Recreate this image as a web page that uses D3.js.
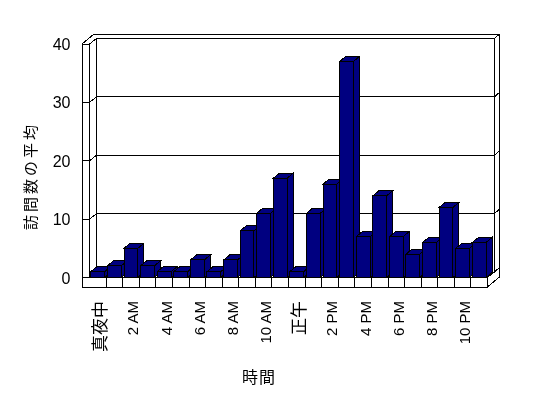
<!DOCTYPE html>
<html><head><meta charset="utf-8">
<script src="https://cdn.jsdelivr.net/npm/d3@7"></script>
<style>html,body{margin:0;padding:0;background:#fff;} svg{display:block}</style>
</head><body>
<script>
// ---- data ----
const categories = ["真夜中","1 AM","2 AM","3 AM","4 AM","5 AM","6 AM","7 AM","8 AM","9 AM","10 AM","11 AM",
                    "正午","1 PM","2 PM","3 PM","4 PM","5 PM","6 PM","7 PM","8 PM","9 PM","10 PM","11 PM"];
const visits = [1,2,5,2,1,1,3,1,3,8,11,17,1,11,16,37,7,14,7,4,6,12,5,6];
const yTicks = [0,10,20,30,40];
const xTickLabels = categories.filter((d,i)=>i%2===0);
const yTitle = "訪問数の平均";
const xTitle = "時間";

// ---- layout ----
const W=548,H=398;
const wallL = 82, plotL = 89.5, plotR = 487.5, floorBottom = 287;
const depth = {dx:7, dy:5.5};     // front -> back wall face
const total = {dx:12, dy:10};     // front -> back of walls
const barDepth = {dx:6, dy:5};
const barColor = "#000080";

const svg = d3.select("body").append("svg").attr("width",W).attr("height",H)
  .style("background","#fff");
const flt = svg.append("defs").append("filter").attr("id","gray")
  .attr("x","-10%").attr("y","-10%").attr("width","120%").attr("height","120%");
flt.append("feColorMatrix").attr("type","saturate").attr("values",0);

const x = d3.scaleBand().domain(categories).range([plotL, plotR]).paddingInner(0.17).paddingOuter(0.085);
const y = d3.scaleLinear().domain([0,40]).range([277.5,44]);
const step = x.step();
const y0 = y(0), yTop = y(40);

const line = d3.line();
const frame = svg.append("g").attr("fill","none").attr("stroke","#000").attr("stroke-width",1)
  .attr("shape-rendering","crispEdges");

// outer silhouette of walls + floor
frame.append("path").attr("fill","#fff").attr("d", line([
  [wallL, floorBottom],[wallL, yTop],[wallL+total.dx, yTop-total.dy],
  [plotR+total.dx, yTop-total.dy],[plotR+total.dx, floorBottom-total.dy],[plotR, floorBottom]
]) + "Z");
// inner edges
frame.append("path").attr("d", line([[plotL, yTop],[plotL, y0],[plotR, y0],[plotR, floorBottom]]));
frame.append("path").attr("d", line([[plotL+depth.dx, yTop-depth.dy],[plotL+depth.dx, y0-depth.dy]]));
frame.append("path").attr("d", line([[plotR+depth.dx, yTop-depth.dy],[plotR+depth.dx, y0-depth.dy]]));
frame.append("path").attr("d", line([[plotR, y0],[plotR+total.dx, y0-total.dy]]));
// floor dividers
for (let i=1;i<categories.length;i++){
  const xx = plotL + i*step;
  frame.append("path").attr("d", line([[xx, y0],[xx, floorBottom]]));
}
// ticks + gridlines
yTicks.forEach(v=>{
  const yy = y(v);
  frame.append("path").attr("d", line([
    [wallL, yy],[plotL, yy],[plotL+depth.dx, yy-depth.dy],
    [plotR+depth.dx, yy-depth.dy],[plotR+total.dx, yy-total.dy]
  ]));
});

// ---- bars ----
const bars = svg.append("g").attr("stroke","#000").attr("stroke-width",1).attr("fill",barColor)
  .attr("shape-rendering","crispEdges");
categories.forEach((c,i)=>{
  const bx = x(c), bw = x.bandwidth(), yt = y(visits[i]);
  const g = bars.append("g");
  g.append("path").attr("d", line([[bx+bw,yt],[bx+bw+barDepth.dx,yt-barDepth.dy],
    [bx+bw+barDepth.dx,y0-barDepth.dy],[bx+bw,y0]])+"Z");
  g.append("path").attr("d", line([[bx,yt],[bx+barDepth.dx,yt-barDepth.dy],
    [bx+bw+barDepth.dx,yt-barDepth.dy],[bx+bw,yt]])+"Z");
  g.append("rect").attr("x",bx).attr("y",yt).attr("width",bw).attr("height",y0-yt);
});

// ---- text layer (desaturated) ----
const txt = svg.append("g").attr("filter","url(#gray)");

const yAxis = txt.append("g").attr("transform",`translate(${wallL},0)`)
  .call(d3.axisLeft(y).tickValues(yTicks).tickSize(0).tickPadding(11.5));
yAxis.select(".domain").remove();
yAxis.attr("font-family","'Liberation Sans', Arial, sans-serif").attr("font-size",16);
yAxis.selectAll("text").attr("fill","#000").attr("dy","0.35em");

const xAxis = txt.append("g").attr("transform",`translate(2,301)`)
  .call(d3.axisBottom(x).tickValues(xTickLabels).tickSize(0));
xAxis.select(".domain").remove();
xAxis.attr("font-family","'Liberation Sans', 'Noto Sans CJK JP', sans-serif");
xAxis.selectAll("text")
  .attr("fill","#000")
  .attr("transform","rotate(-90)")
  .attr("x",0).attr("y",0).attr("dy","0.36em")
  .attr("text-anchor","end")
  .style("font-size", d => /[^\x00-\x7f]/.test(d) ? "17px" : "15px")
  .style("font-family", d => /[^\x00-\x7f]/.test(d) ? "'Noto Sans CJK JP', sans-serif" : "'Liberation Sans', Arial, sans-serif");

txt.append("text").attr("transform","translate(29,176) rotate(-90)")
  .attr("text-anchor","middle").attr("dominant-baseline","central")
  .attr("font-family","'Noto Sans CJK JP', sans-serif").attr("font-size",15)
  .attr("letter-spacing","3px").attr("fill","#000").text(yTitle);
txt.append("text").attr("x",259).attr("y",376)
  .attr("text-anchor","middle").attr("dominant-baseline","central")
  .attr("font-family","'Noto Sans CJK JP', sans-serif").attr("font-size",16)
  .attr("letter-spacing","1px").attr("fill","#000").text(xTitle);
</script>
</body></html>
